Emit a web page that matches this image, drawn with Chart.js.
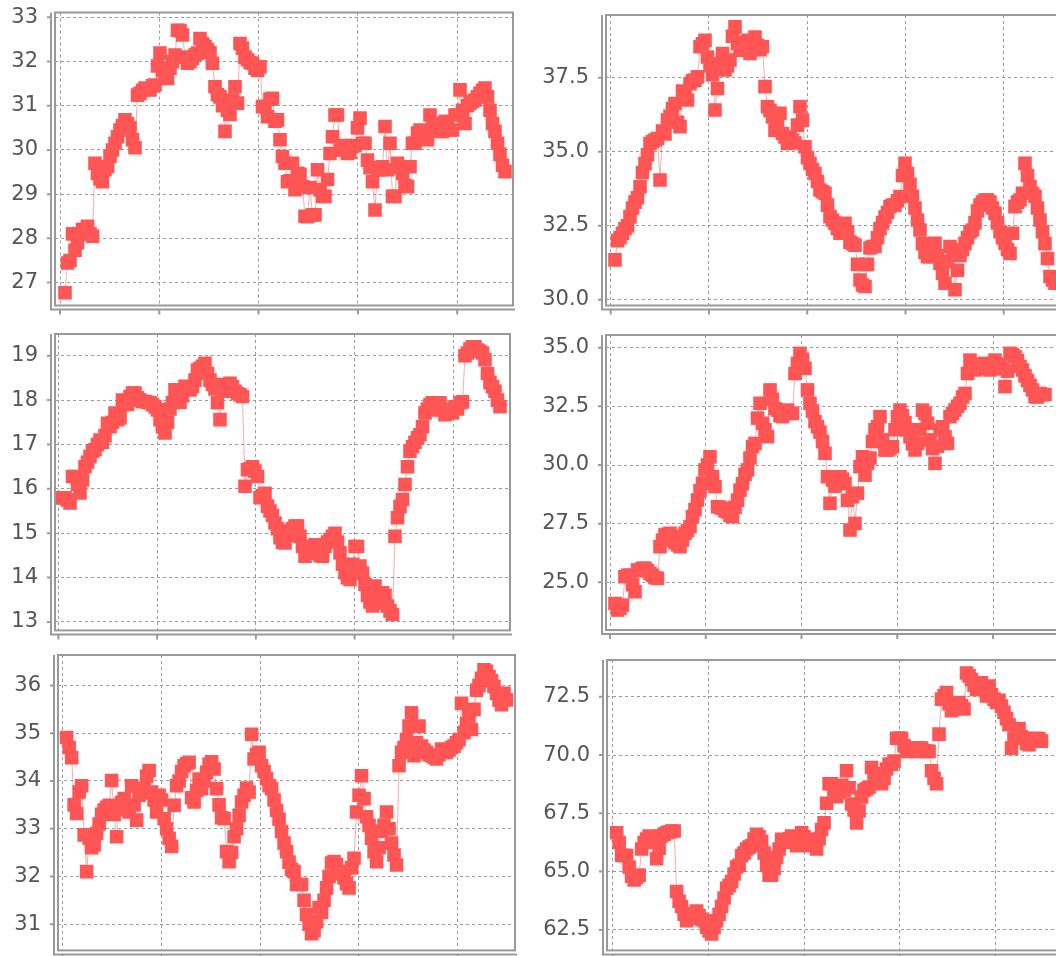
<!DOCTYPE html>
<html>
<head>
<meta charset="utf-8">
<script src="https://cdn.jsdelivr.net/npm/chart.js@4.4.0/dist/chart.umd.min.js"></script>
<style>
  html, body { margin: 0; padding: 0; background: #fff; overflow: hidden; }
  body { width: 1056px; height: 956px; position: relative; }
  canvas { position: absolute; }
</style>
</head>
<body>
<canvas id="c1" width="530" height="320" style="left:0;top:0"></canvas>
<canvas id="c2" width="570" height="320" style="left:530px;top:0"></canvas>
<canvas id="c3" width="530" height="320" style="left:0;top:320px"></canvas>
<canvas id="c4" width="570" height="320" style="left:530px;top:320px"></canvas>
<canvas id="c5" width="530" height="320" style="left:0;top:640px"></canvas>
<canvas id="c6" width="570" height="320" style="left:530px;top:640px"></canvas>
<script>
// values, one sample every ~2.5px of the original plot
const series1 = [26.77, 27.44, 27.5, 28.1, 27.73, 27.9, 28.1, 28.2, 28.2, 28.27,
  28.1, 28.05, 29.7, 29.47, 29.35, 29.28, 29.55, 29.62, 29.85, 30.0,
  30.15, 30.3, 30.45, 30.55, 30.68, 30.6, 30.5, 30.23, 30.05, 31.24,
  31.28, 31.35, 31.4, 31.38, 31.36, 31.45, 31.47, 31.9, 32.19, 31.8,
  31.7, 31.62, 31.85, 32.0, 32.15, 32.71, 32.7, 32.6, 32.1, 31.96,
  32.0, 32.07, 32.15, 32.19, 32.52, 32.4, 32.34, 32.28, 32.2, 31.96,
  31.43, 31.25, 31.2, 31.0, 30.42, 30.9, 30.8, 31.13, 31.43, 31.06,
  32.41, 32.3, 32.1, 32.04, 31.98, 31.96, 31.85, 31.8, 31.88, 30.98,
  30.98, 30.75, 31.15, 31.17, 30.65, 30.68, 30.23, 29.85, 29.7, 29.28,
  29.3, 29.7, 29.1, 29.47, 29.45, 29.17, 28.5, 28.49, 29.15, 28.53,
  28.53, 29.55, 29.1, 28.95, 28.95, 29.33, 29.92, 30.3, 30.79, 30.79,
  30.0, 30.0, 30.1, 29.92, 29.95, 30.08, 30.1, 30.5, 30.72, 30.15,
  30.15, 29.77, 29.6, 29.28, 28.64, 29.55, 29.55, 29.62, 30.53, 29.55,
  30.15, 28.95, 28.95, 29.7, 29.6, 29.47, 29.2, 29.17, 29.62, 30.15,
  30.15, 30.38, 30.45, 30.35, 30.25, 30.23, 30.79, 30.6, 30.53, 30.48,
  30.42, 30.42, 30.64, 30.64, 30.45, 30.45, 30.79, 30.79, 31.36, 30.9,
  30.6, 31.0, 31.06, 31.1, 31.13, 31.2, 31.28, 31.35, 31.4, 31.2,
  30.9, 30.6, 30.42, 30.15, 29.9, 29.65, 29.51];

const series2 = [31.35, 32.0, 32.1, 32.25, 32.4, 32.5, 32.81, 33.1, 33.3, 33.45,
  33.82, 34.3, 34.6, 34.9, 35.28, 35.35, 35.4, 35.45, 34.05, 35.7,
  35.6, 36.07, 36.2, 36.45, 36.63, 36.0, 35.85, 37.05, 37.0, 36.75,
  37.3, 37.4, 37.42, 37.53, 38.55, 38.65, 38.77, 38.2, 37.9, 37.6,
  36.41, 37.14, 37.98, 38.32, 37.76, 37.9, 38.1, 38.9, 39.22, 38.66,
  38.5, 38.43, 38.7, 38.77, 38.32, 38.6, 38.88, 38.6, 38.45, 38.55,
  37.2, 36.52, 36.4, 36.18, 35.73, 36.0, 36.3, 35.62, 35.5, 35.28,
  35.45, 35.4, 35.3, 35.9, 36.52, 36.07, 35.17, 34.8, 34.61, 34.4,
  34.27, 34.0, 33.71, 33.65, 33.6, 33.2, 32.81, 32.7, 32.59, 32.4,
  32.25, 32.4, 32.59, 32.3, 31.95, 31.9, 31.85, 31.2, 30.67, 30.5,
  30.45, 31.2, 31.75, 31.8, 31.8, 32.1, 32.4, 32.6, 32.8, 32.95,
  33.15, 33.2, 33.2, 33.35, 33.49, 34.2, 34.61, 34.27, 33.9, 33.5,
  33.1, 32.7, 32.36, 31.9, 31.6, 31.46, 31.46, 31.7, 31.91, 31.5,
  31.24, 30.9, 30.56, 31.3, 31.8, 31.57, 30.34, 31.0, 31.5, 31.7,
  31.9, 32.1, 32.3, 32.36, 32.6, 33.0, 33.2, 33.3, 33.37, 33.37,
  33.3, 33.1, 32.92, 32.6, 32.3, 32.1, 31.91, 31.7, 31.57, 32.25,
  33.15, 33.3, 33.37, 33.6, 34.61, 34.2, 33.82, 33.6, 33.5, 33.1,
  32.7, 32.3, 31.9, 31.4, 30.79, 30.67, 30.56];

const series3 = [15.8, 15.8, 15.8, 15.75, 15.68, 16.28, 16.28, 16.1, 15.91, 16.2,
  16.5, 16.6, 16.73, 16.85, 16.88, 17.0, 17.1, 17.05, 17.2, 17.48,
  17.4, 17.5, 17.71, 17.56, 17.6, 18.0, 17.95, 17.9, 18.08, 18.16,
  18.16, 18.05, 18.0, 17.97, 17.97, 17.95, 17.94, 17.9, 17.85, 17.78,
  17.56, 17.4, 17.26, 17.5, 17.8, 17.94, 18.23, 18.0, 17.95, 18.1,
  18.31, 18.3, 18.23, 18.3, 18.45, 18.68, 18.72, 18.76, 18.83, 18.6,
  18.45, 18.35, 18.25, 17.94, 17.56, 18.35, 18.2, 18.23, 18.38, 18.3,
  18.2, 18.15, 18.12, 18.08, 16.06, 16.43, 16.45, 16.5, 16.4, 16.28,
  15.8, 15.85, 15.9, 15.61, 15.5, 15.4, 15.23, 15.1, 14.9, 14.8,
  14.78, 14.95, 15.05, 15.1, 15.16, 15.16, 14.93, 14.7, 14.48, 14.55,
  14.63, 14.7, 14.74, 14.6, 14.5, 14.48, 14.71, 14.8, 14.86, 14.93,
  15.0, 14.8, 14.56, 14.3, 14.11, 14.0, 13.96, 14.3, 14.7, 14.7,
  14.26, 14.1, 13.85, 13.6, 13.45, 13.36, 13.81, 13.6, 13.43, 13.66,
  13.6, 13.36, 13.25, 13.17, 14.93, 15.35, 15.6, 15.76, 16.1, 16.5,
  16.85, 16.95, 17.05, 17.15, 17.22, 17.4, 17.71, 17.8, 17.9, 17.94,
  17.85, 17.78, 17.94, 17.8, 17.67, 17.7, 17.75, 17.71, 17.85, 17.8,
  17.94, 17.96, 19.0, 19.06, 19.15, 19.2, 19.2, 19.13, 19.1, 19.06,
  18.91, 18.6, 18.4, 18.3, 18.2, 18.0, 17.85];

const series4 = [24.1, 23.82, 23.9, 24.03, 25.24, 25.3, 25.31, 24.9, 24.6, 25.53,
  25.5, 25.6, 25.6, 25.5, 25.38, 25.3, 25.2, 25.17, 26.52, 26.8,
  27.02, 27.05, 27.09, 26.95, 26.7, 26.6, 26.52, 26.8, 27.09, 27.2,
  27.37, 27.8, 28.1, 28.51, 28.9, 29.22, 29.79, 30.0, 30.35, 29.5,
  29.08, 28.22, 28.2, 28.15, 28.05, 28.0, 27.85, 27.8, 28.2, 28.5,
  28.93, 29.2, 29.6, 29.79, 30.3, 30.78, 30.92, 32.0, 32.63, 31.78,
  31.5, 31.21, 33.2, 32.8, 32.4, 32.34, 32.1, 32.06, 32.3, 32.34,
  32.2, 32.2, 33.9, 34.33, 34.76, 34.5, 34.12, 33.2, 32.63, 32.3,
  31.85, 31.63, 31.4, 31.0, 30.5, 29.5, 28.37, 29.36, 29.1, 29.2,
  29.5, 29.4, 29.22, 28.5, 27.23, 28.65, 27.51, 28.8, 29.93, 30.35,
  29.57, 30.07, 30.3, 31.0, 31.5, 31.63, 32.06, 31.07, 30.64, 30.64,
  30.7, 30.78, 31.5, 32.06, 32.34, 32.1, 31.8, 31.5, 31.2, 30.9,
  30.64, 30.92, 31.5, 32.34, 32.2, 31.78, 31.07, 30.7, 30.07, 30.8,
  31.49, 31.63, 31.2, 30.92, 32.06, 32.2, 32.34, 32.5, 32.63, 32.9,
  33.05, 33.9, 34.47, 34.3, 34.05, 34.1, 34.19, 34.25, 34.33, 34.2,
  34.05, 34.2, 34.47, 34.3, 34.19, 34.1, 33.34, 34.0, 34.76, 34.7,
  34.62, 34.45, 34.2, 34.05, 33.8, 33.6, 33.4, 33.2, 32.91, 32.9,
  33.05, 33.0, 33.0];

const series5 = [34.91, 34.7, 34.49, 33.5, 33.32, 33.77, 33.9, 32.87, 32.1, 32.8,
  32.6, 32.66, 32.9, 33.1, 33.3, 33.39, 33.45, 33.49, 34.01, 33.3,
  32.83, 33.42, 33.55, 33.63, 33.4, 33.35, 33.9, 33.5, 33.18, 33.7,
  33.75, 33.84, 34.1, 34.22, 33.77, 33.6, 33.35, 33.7, 33.6, 33.21,
  33.0, 32.8, 32.63, 33.49, 33.9, 34.0, 34.2, 34.32, 34.36, 34.39,
  33.65, 33.56, 33.8, 34.04, 33.84, 34.0, 34.18, 34.35, 34.4, 34.25,
  33.84, 33.5, 33.23, 33.21, 32.52, 32.31, 32.5, 32.83, 33.0, 33.28,
  33.56, 33.7, 33.85, 33.77, 34.98, 34.46, 34.55, 34.6, 34.32, 34.2,
  34.05, 33.9, 33.84, 33.6, 33.38, 33.2, 32.94, 32.7, 32.52, 32.3,
  32.15, 32.1, 31.83, 31.83, 31.83, 31.5, 31.2, 31.0, 30.8, 30.86,
  31.05, 31.35, 31.25, 31.5, 31.76, 32.0, 32.28, 32.31, 32.25, 32.1,
  32.05, 31.97, 31.85, 31.76, 32.18, 32.38, 33.35, 33.7, 34.11, 33.63,
  33.25, 33.07, 32.8, 32.52, 32.31, 32.6, 32.95, 33.07, 33.35, 33.0,
  32.7, 32.45, 32.24, 34.32, 34.6, 34.7, 34.87, 35.15, 35.43, 34.53,
  34.8, 35.15, 34.73, 34.65, 34.6, 34.55, 34.53, 34.5, 34.46, 34.55,
  34.67, 34.62, 34.6, 34.65, 34.7, 34.73, 34.8, 34.87, 35.63, 35.01,
  35.2, 35.36, 35.08, 35.5, 35.9, 36.0, 36.15, 36.33, 36.3, 36.19,
  36.1, 35.98, 35.84, 35.7, 35.6, 35.84, 35.7];

const series6 = [66.67, 66.25, 65.7, 65.69, 65.69, 65.2, 64.8, 64.64, 64.75, 64.85,
  65.97, 66.25, 66.4, 66.53, 66.4, 66.25, 65.55, 66.0, 66.53, 66.6,
  66.67, 66.7, 66.74, 66.74, 64.15, 63.73, 63.5, 63.17, 62.89, 63.0,
  63.17, 63.2, 63.31, 63.1, 62.95, 62.89, 62.61, 62.45, 62.33, 62.6,
  62.89, 63.17, 63.5, 63.87, 64.29, 64.4, 64.57, 64.9, 65.2, 65.27,
  65.69, 65.8, 65.97, 66.05, 66.11, 66.4, 66.6, 66.5, 66.3, 65.8,
  65.27, 64.85, 64.85, 65.13, 65.6, 65.97, 66.39, 66.3, 66.25, 66.4,
  66.53, 66.3, 66.11, 66.4, 66.67, 66.5, 66.2, 66.11, 66.3, 66.39,
  65.97, 66.4, 66.81, 67.09, 67.93, 68.77, 68.77, 68.5, 68.21, 68.4,
  68.7, 68.49, 69.33, 68.6, 67.9, 67.65, 67.09, 67.6, 68.2, 68.49,
  68.55, 68.63, 69.47, 69.2, 68.91, 68.85, 68.77, 69.0, 69.4, 69.61,
  69.61, 69.74, 70.72, 70.72, 70.72, 70.4, 70.16, 70.3, 70.3, 70.2,
  70.16, 70.3, 70.3, 70.2, 70.16, 70.16, 69.33, 69.0, 68.77, 70.9,
  72.4, 72.54, 72.68, 72.2, 71.9, 72.0, 72.2, 72.26, 72.12, 71.98,
  73.52, 73.4, 73.24, 73.0, 72.82, 72.9, 73.1, 72.8, 72.54, 72.96,
  72.6, 72.4, 72.26, 72.35, 72.1, 71.84, 71.56, 71.3, 70.3, 70.72,
  71.0, 71.14, 70.8, 70.72, 70.5, 70.44, 70.6, 70.6, 70.72, 70.7,
  70.6];

const yTicks1 = [27, 28, 29, 30, 31, 32, 33];
const yTicks2 = [30, 32.5, 35, 37.5];
const yTicks3 = [13, 14, 15, 16, 17, 18, 19];
const yTicks4 = [25, 27.5, 30, 32.5, 35];
const yTicks5 = [31, 32, 33, 34, 35, 36];
const yTicks6 = [62.5, 65, 67.5, 70, 72.5];

// canvas origin/size (cx, cy, w, h) and plot rect (l, t, r, b) in page pixels
const panels = [
  { id: 'c1', values: series1, yTicks: yTicks1, dec: 0, yMin: 26.48, yMax: 33.11,
    xMin: -2.0, xMax: 89.6, xTick0: -1.0, xStep: 19.86,
    cx: 0, cy: 0, w: 530, h: 320, l: 55, t: 12.5, r: 513, b: 305.5 },
  { id: 'c2', values: series2, yTicks: yTicks2, dec: 1, yMin: 29.81, yMax: 39.62,
    xMin: -1.8, xMax: 89.6, xTick0: -0.86, xStep: 19.65,
    cx: 530, cy: 0, w: 570, h: 320, l: 606, t: 15, r: 1063, b: 305.5 },
  { id: 'c3', values: series3, yTicks: yTicks3, dec: 0, yMin: 12.81, yMax: 19.49,
    xMin: -1.0, xMax: 90.0, xTick0: -0.33, xStep: 19.75,
    cx: 0, cy: 320, w: 530, h: 320, l: 55, t: 334, r: 510, b: 631 },
  { id: 'c4', values: series4, yTicks: yTicks4, dec: 1, yMin: 22.97, yMax: 35.54,
    xMin: -1.8, xMax: 89.6, xTick0: -1.0, xStep: 19.15,
    cx: 530, cy: 320, w: 570, h: 320, l: 606, t: 335, r: 1063, b: 630 },
  { id: 'c5', values: series5, yTicks: yTicks5, dec: 0, yMin: 30.45, yMax: 36.64,
    xMin: -1.73, xMax: 89.7, xTick0: -0.8, xStep: 19.75,
    cx: 0, cy: 640, w: 530, h: 320, l: 58, t: 655, r: 515, b: 953 },
  { id: 'c6', values: series6, yTicks: yTicks6, dec: 1, yMin: 61.62, yMax: 74.08,
    xMin: -1.93, xMax: 89.3, xTick0: -0.8, xStep: 19.15,
    cx: 530, cy: 640, w: 570, h: 320, l: 607, t: 660, r: 1063, b: 957 }
];

const frameColor = '#999';
const gridColor = '#999';
const sampleStep = 0.5;

// plot outline, offset axis lines and tick marks
const framePlugin = {
  id: 'frame',
  afterDraw(chart) {
    const { ctx, chartArea: a, scales: { x, y } } = chart;
    const ax = a.left - 4, ay = a.bottom + 4;
    ctx.save();
    ctx.strokeStyle = frameColor;
    ctx.lineWidth = 2;
    ctx.strokeRect(a.left, a.top, a.right - a.left, a.bottom - a.top);
    ctx.beginPath();
    ctx.moveTo(ax, a.top);
    ctx.lineTo(ax, ay);
    ctx.lineTo(a.right + 2, ay);
    y.ticks.forEach(t => {
      const py = y.getPixelForValue(t.value);
      ctx.moveTo(ax - 4, py);
      ctx.lineTo(ax, py);
    });
    x.ticks.forEach(t => {
      const px = x.getPixelForValue(t.value);
      ctx.moveTo(px, ay);
      ctx.lineTo(px, ay + 5);
    });
    ctx.stroke();
    ctx.restore();
  }
};

panels.forEach(p => {
  const xTicks = [];
  for (let v = p.xTick0; v < p.xMax; v += p.xStep) xTicks.push(v);

  new Chart(document.getElementById(p.id), {
    type: 'line',
    data: {
      datasets: [{
        data: p.values.map((v, i) => ({ x: i * sampleStep, y: v })),
        borderColor: 'rgba(255, 85, 85, 0.5)',
        borderWidth: 1,
        pointStyle: 'rect',
        pointRadius: 9.6,
        pointBorderWidth: 0,
        pointBackgroundColor: '#ff5555',
        tension: 0
      }]
    },
    options: {
      responsive: false,
      animation: false,
      devicePixelRatio: 1,
      layout: {
        padding: { left: 0, top: p.t - p.cy, right: p.cx + p.w - p.r, bottom: p.cy + p.h - p.b }
      },
      plugins: { legend: { display: false }, tooltip: { enabled: false } },
      scales: {
        x: {
          type: 'linear',
          min: p.xMin,
          max: p.xMax,
          ticks: { display: false },
          grid: { color: gridColor, lineWidth: 1, drawTicks: false },
          border: { display: false, dash: [3, 3] },
          afterBuildTicks: s => { s.ticks = xTicks.map(v => ({ value: v })); },
          afterFit: s => { s.height = 0; s.paddingLeft = 0; s.paddingRight = 0; }
        },
        y: {
          min: p.yMin,
          max: p.yMax,
          ticks: {
            color: '#555',
            padding: 17,
            font: { family: 'DejaVu Sans', size: 21 },
            callback: v => v.toFixed(p.dec)
          },
          grid: { color: gridColor, lineWidth: 1, drawTicks: false },
          border: { display: false, dash: [3, 3] },
          afterBuildTicks: s => { s.ticks = p.yTicks.map(v => ({ value: v })); },
          afterFit: s => { s.width = p.l - p.cx; s.paddingTop = 0; s.paddingBottom = 0; }
        }
      }
    },
    plugins: [framePlugin]
  });
});
</script>
</body>
</html>
